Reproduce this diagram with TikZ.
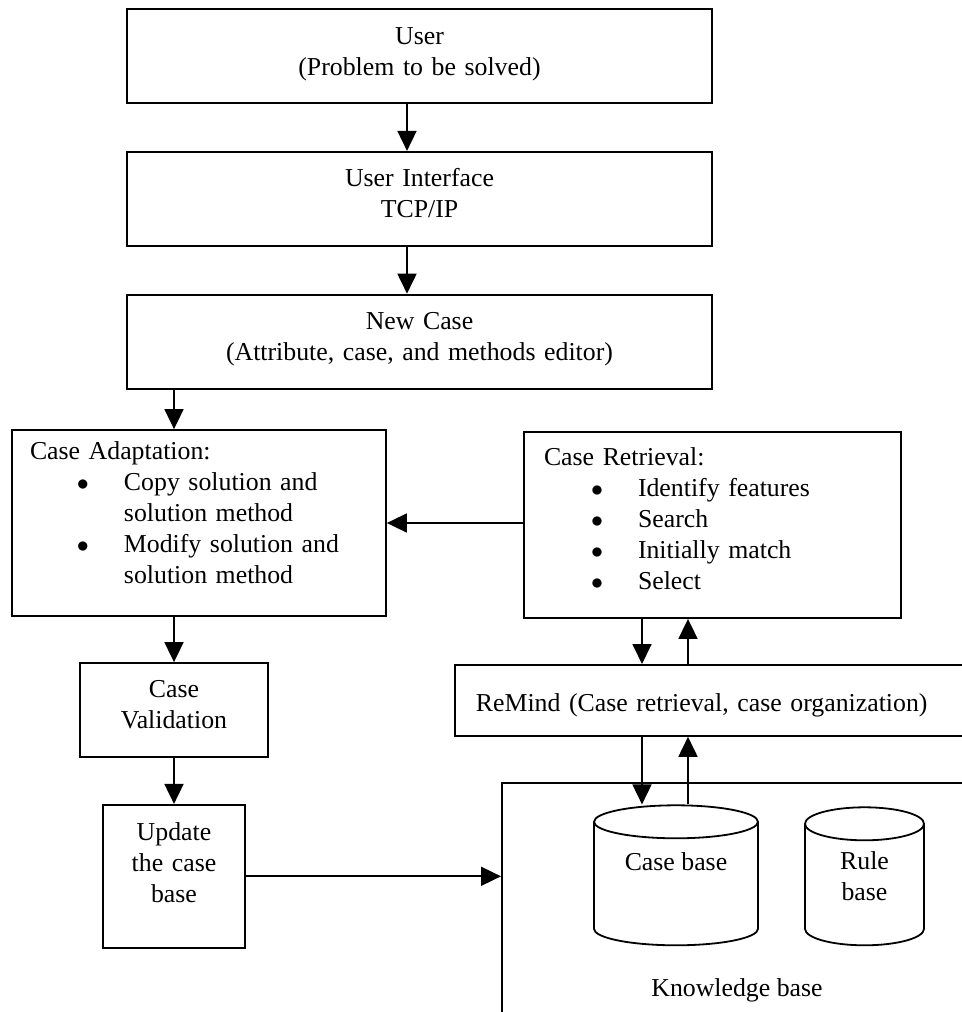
\documentclass[tikz,border=0pt]{standalone}
\usepackage{fontspec}
\setmainfont{Liberation Serif}
\usetikzlibrary{arrows.meta,positioning,shapes.geometric}
\tikzset{%
	box/.style      = {draw, rectangle, inner xsep=0pt, inner ysep=0pt},
	topbox/.style   = {box, text width=292.5pt, align=center, text height=17.5pt, text depth=29.5pt}, % User, interface, new case
	listbox/.style  = {box, align=left}, % Adaptation and retrieval
	db/.style       = {draw, cylinder, shape border rotate=90, inner sep=0pt, shape aspect=0.825}, % Case and rule base
	arrow/.style    = {-{Triangle[length=10pt,width=9.5pt]}},
}
\newcommand{\bitem}[1]{\hspace*{23.5pt}\makebox[23.5pt][l]{$\bullet$}#1}
\newcommand{\bcont}[1]{\hspace*{47pt}#1}

\begin{document}
\begin{tikzpicture}[x=0.5pt, y=-0.5pt, node distance=23.5pt, line width=0.9pt,
	font=\fontsize{12.9}{15.5}\selectfont]
	\clip (0,0) rectangle (962,1012);
	\node[topbox] (user) at (419.5,56) {User\\(Problem to be solved)};
	\node[topbox,below=of user] (ui) {User Interface\\TCP/IP};
	\node[topbox,below=of ui] (nc) {New Case\\(Attribute, case, and methods editor)};
	\node[listbox, inner xsep=9pt, text width=169pt, text height=14.5pt, text depth=78.5pt] (ca) at (199,523)
		{Case Adaptation:\\ \bitem{Copy solution and}\\ \bcont{solution method}\\ \bitem{Modify solution and}\\ \bcont{solution method}};
	\node[listbox, inner xsep=10pt, text width=168.5pt, text height=16.5pt, text depth=76.5pt] (cr) at (712.5,525)
		{Case Retrieval:\\ \bitem{Identify features}\\ \bitem{Search}\\ \bitem{Initially match}\\ \bitem{Select}};
	\node[box, text width=94pt, align=center, text height=17pt, text depth=30pt] (cv) at (174,710) {Case\\Validation};
	\node[box, text width=71pt, align=center, text height=18pt, text depth=53.5pt, below=23pt of cv] (upd) {Update\\the case\\base};
	\node[listbox, anchor=north west, inner xsep=10.5pt, text width=247pt, text height=23.5pt, text depth=12pt] (rem) at (454,664)
		{ReMind (Case retrieval, case organization)};
	\node[box, anchor=north west, minimum width=244.5pt, minimum height=129pt] (kb) at (501,782) {};
	\node[db, minimum width=82pt, minimum height=70pt,
		label={[yshift=11pt]center:Case base}] (cb) at (676,884) {\hspace*{20pt}};
	\node[db, minimum width=59.5pt, minimum height=69pt,
		label={[align=center,yshift=4.5pt]center:Rule\\base}] (rb) at (864.5,885) {\hspace*{20pt}};
	\node (kbl) at (737,990) {Knowledge base};
	\coordinate (down) at (642,0);
	\coordinate (up) at (688,0);
	\draw[arrow] ([xshift=-6.25pt]user.south) -- ([xshift=-6.25pt]ui.north);
	\draw[arrow] ([xshift=-6.25pt]ui.south) -- ([xshift=-6.25pt]nc.north);
	\draw[arrow] (nc.south -| cv.north) -- (ca.north -| cv.north);
	\draw[arrow] (ca.east -| cr.west) -- (ca.east);
	\draw[arrow] (ca.south -| cv.north) -- (cv.north);
	\draw[arrow] (cv.south) -- (upd.north);
	\draw[arrow] (upd.east) -- (upd.east -| kb.west);
	\draw[arrow] (cr.south -| down) -- (rem.north -| down);
	\draw[arrow] (rem.north -| up) -- (cr.south -| up);
	\draw[arrow] (rem.south -| down) -- (cb.north -| down);
	\draw[arrow] (cb.north -| up) -- (rem.south -| up);
\end{tikzpicture}
\end{document}
